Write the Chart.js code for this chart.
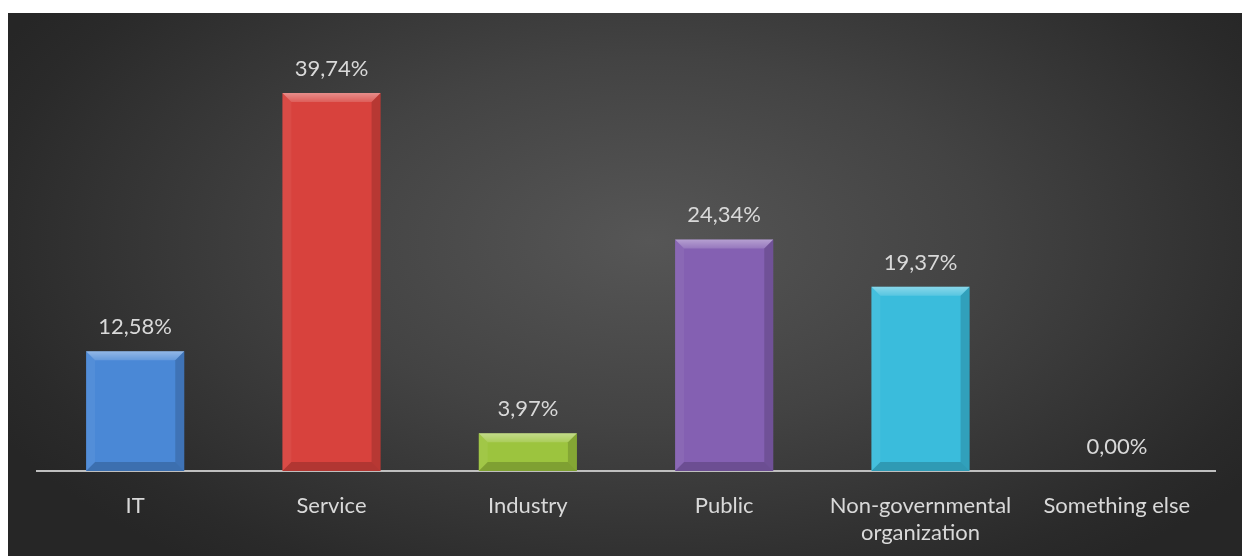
<!DOCTYPE html>
<html>
<head>
<meta charset="utf-8">
<script src="https://cdn.jsdelivr.net/npm/chart.js@4"></script>
<style>
    body { margin: 0; background: #ffffff; }
    .chart_box {
        position: absolute;
        left: 8px;
        top: 13px;
        width: 1234px;
        height: 543px;
        background: radial-gradient(ellipse 60% 75% at 52% 42%, #565656 0%, #434343 45%, #2a2a2a 90%, #262626 100%);
    }
</style>
</head>
<body>
<div class="chart_box">
    <canvas id="bar_chart" width="1234" height="543"></canvas>
</div>
<script>
// data
const categories = ['IT', 'Service', 'Industry', 'Public', ['Non-governmental', 'organization'], 'Something else'];
const shares = [12.58, 39.74, 3.97, 24.34, 19.37, 0.00];
const barColors = ['#4a88d6', '#d8423d', '#9cc43e', '#8460b2', '#3abcdc', '#888888'];
const yMin = 0;
const yMax = 45;

const textColor = '#d9d9d9';
const fontFamily = 'Lato, "Open Sans", sans-serif';
const fontSize = 22;

// bevel look + value labels drawn on top of each bar
const bevelPlugin = {
    id: 'bevel',
    afterDatasetsDraw(chart) {
        const ctx = chart.ctx;
        const meta = chart.getDatasetMeta(0);
        meta.data.forEach((bar, i) => {
            const half = bar.width / 2;
            const left = bar.x - half;
            const right = bar.x + half;
            const top = bar.y;
            const bottom = bar.base;
            const h = bottom - top;
            const b = Math.min(9, h / 2);

            if (h > 1) {
                ctx.save();
                // top face
                const topGrad = ctx.createLinearGradient(0, top, 0, top + b);
                topGrad.addColorStop(0, 'rgba(255,255,255,0.40)');
                topGrad.addColorStop(1, 'rgba(255,255,255,0.15)');
                ctx.fillStyle = topGrad;
                ctx.beginPath();
                ctx.moveTo(left, top);
                ctx.lineTo(right, top);
                ctx.lineTo(right - b, top + b);
                ctx.lineTo(left + b, top + b);
                ctx.closePath();
                ctx.fill();
                // left face
                ctx.fillStyle = 'rgba(255,255,255,0.05)';
                ctx.beginPath();
                ctx.moveTo(left, top);
                ctx.lineTo(left + b, top + b);
                ctx.lineTo(left + b, bottom - b);
                ctx.lineTo(left, bottom);
                ctx.closePath();
                ctx.fill();
                // right face
                ctx.fillStyle = 'rgba(0,0,0,0.15)';
                ctx.beginPath();
                ctx.moveTo(right, top);
                ctx.lineTo(right - b, top + b);
                ctx.lineTo(right - b, bottom - b);
                ctx.lineTo(right, bottom);
                ctx.closePath();
                ctx.fill();
                // bottom face
                ctx.fillStyle = 'rgba(0,0,0,0.18)';
                ctx.beginPath();
                ctx.moveTo(left, bottom);
                ctx.lineTo(left + b, bottom - b);
                ctx.lineTo(right - b, bottom - b);
                ctx.lineTo(right, bottom);
                ctx.closePath();
                ctx.fill();
                ctx.restore();
            }

            // value label
            ctx.save();
            ctx.fillStyle = textColor;
            ctx.font = fontSize + 'px ' + fontFamily;
            ctx.textAlign = 'center';
            ctx.textBaseline = 'alphabetic';
            const label = shares[i].toFixed(2).replace('.', ',') + '%';
            ctx.fillText(label, bar.x, top - 17);
            ctx.restore();
        });
    }
};

new Chart(document.getElementById('bar_chart').getContext('2d'), {
    type: 'bar',
    data: {
        labels: categories,
        datasets: [{
            data: shares,
            backgroundColor: barColors,
            borderWidth: 0,
            barPercentage: 0.5,
            categoryPercentage: 1
        }]
    },
    options: {
        responsive: false,
        devicePixelRatio: 1,
        animation: false,
        layout: {
            padding: { left: 29, right: 27, top: 30, bottom: 0 }
        },
        plugins: {
            legend: { display: false },
            tooltip: { enabled: false }
        },
        scales: {
            y: {
                display: false,
                min: yMin,
                max: yMax
            },
            x: {
                afterFit: (scale) => { scale.height = 85; },
                grid: {
                    display: false,
                    drawTicks: false
                },
                border: {
                    display: true,
                    color: '#bfbfbf',
                    width: 2
                },
                ticks: {
                    color: textColor,
                    padding: 21,
                    maxRotation: 0,
                    autoSkip: false,
                    font: { family: fontFamily, size: fontSize, lineHeight: 1.25 }
                }
            }
        }
    },
    plugins: [bevelPlugin]
});
</script>
</body>
</html>
